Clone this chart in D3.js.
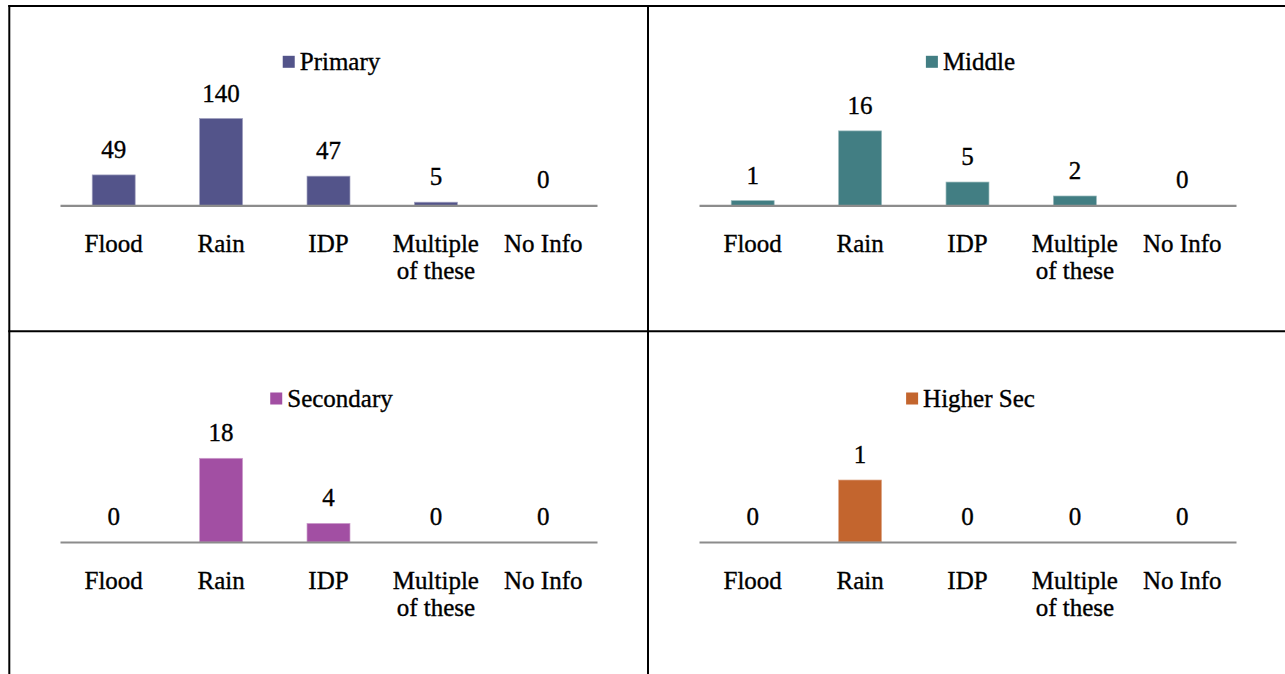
<!DOCTYPE html>
<html>
<head>
<meta charset="utf-8">
<script src="https://cdn.jsdelivr.net/npm/d3@7/dist/d3.min.js"></script>
<style>
  html, body { margin: 0; padding: 0; background: #fff; }
  svg { display: block; }
  text { font-family: "Liberation Serif", "Times New Roman", serif; fill: #000; stroke: #000; stroke-width: 0.35px; }
</style>
</head>
<body>
<svg id="chart" width="1285" height="674"></svg>
<script>
// ---- data ----
const categories = ["Flood", "Rain", "IDP", "Multiple of these", "No Info"];
const seriesNames = ["Primary", "Middle", "Secondary", "Higher Sec"];
const primaryValues = [49, 140, 47, 5, 0];
const middleValues = [1, 16, 5, 2, 0];
const secondaryValues = [0, 18, 4, 0, 0];
const higherSecValues = [0, 1, 0, 0, 0];
const axisMax = [150, 20, 20, 1.5];
const seriesColors = ["#53548A", "#427E83", "#A24FA3", "#C3652E"];

const allValues = [primaryValues, middleValues, secondaryValues, higherSecValues];

// ---- layout ----
const svg = d3.select("#chart");
const W = 1285, H = 674;
const fontSize = 25;

// table borders
const grid = svg.append("g").attr("stroke", "#000").attr("stroke-width", 2);
grid.append("line").attr("x1", 8.3).attr("x2", W + 5).attr("y1", 6).attr("y2", 6);
grid.append("line").attr("x1", 9.3).attr("x2", 9.3).attr("y1", 5).attr("y2", H + 5);
grid.append("line").attr("x1", 648).attr("x2", 648).attr("y1", 5).attr("y2", H + 5);
grid.append("line").attr("x1", 8.3).attr("x2", W + 5).attr("y1", 331.3).attr("y2", 331.3);

const panelOrigins = [
  { x: 60, y: 205.3 },
  { x: 699, y: 205.3 },
  { x: 60, y: 542 },
  { x: 699, y: 542 }
];
const plotW = 537, plotH = 93;

allValues.forEach((vals, i) => {
  const o = panelOrigins[i];
  const g = svg.append("g").attr("transform", `translate(${o.x},${o.y})`);
  const x = d3.scaleBand().domain(categories).range([0, plotW]).paddingInner(0.6).paddingOuter(0.3);
  const y = d3.scaleLinear().domain([0, axisMax[i]]).range([0, -plotH]);

  // bars
  g.selectAll("rect.bar").data(vals).enter().append("rect")
    .attr("class", "bar")
    .attr("x", (d, j) => x(categories[j]))
    .attr("width", x.bandwidth())
    .attr("y", d => y(d))
    .attr("height", d => y(0) - y(d))
    .attr("fill", seriesColors[i])
    .attr("stroke", d3.interpolateRgb(seriesColors[i], "#ffffff")(0.45))
    .attr("stroke-width", d => d > 0 ? 0.7 : 0);

  // axis line
  const axis = d3.axisBottom(x).tickSize(0).tickFormat("");
  const ax = g.append("g").call(axis);
  ax.select(".domain").attr("stroke", "#8C8C8C").attr("stroke-width", 2.2);

  // category labels (wrap)
  g.selectAll("text.cat").data(categories).enter().append("text")
    .attr("class", "cat")
    .attr("text-anchor", "middle")
    .attr("font-size", fontSize)
    .each(function(c) {
      const t = d3.select(this);
      const cx = x(c) + x.bandwidth() / 2;
      const lines = c === "Multiple of these" ? ["Multiple", "of these"] : [c];
      lines.forEach((ln, k) => {
        t.append("tspan").attr("x", cx).attr("y", 46.5 + k * 27.5).text(ln);
      });
    });

  // value labels
  g.selectAll("text.val").data(vals).enter().append("text")
    .attr("class", "val")
    .attr("text-anchor", "middle")
    .attr("font-size", fontSize)
    .attr("x", (d, j) => x(categories[j]) + x.bandwidth() / 2)
    .attr("y", d => y(d) - 17)
    .text(d => d);

  // legend
  const lg = g.append("g");
  lg.append("rect").attr("width", 12).attr("height", 12).attr("y", -149.5).attr("fill", seriesColors[i]);
  const lt = lg.append("text").attr("x", 17).attr("y", -135.5).attr("font-size", fontSize).text(seriesNames[i]);
  const bw = 17 + lt.node().getComputedTextLength();
  lg.attr("transform", `translate(${plotW / 2 + 3 - bw / 2},0)`);
});
</script>
</body>
</html>
